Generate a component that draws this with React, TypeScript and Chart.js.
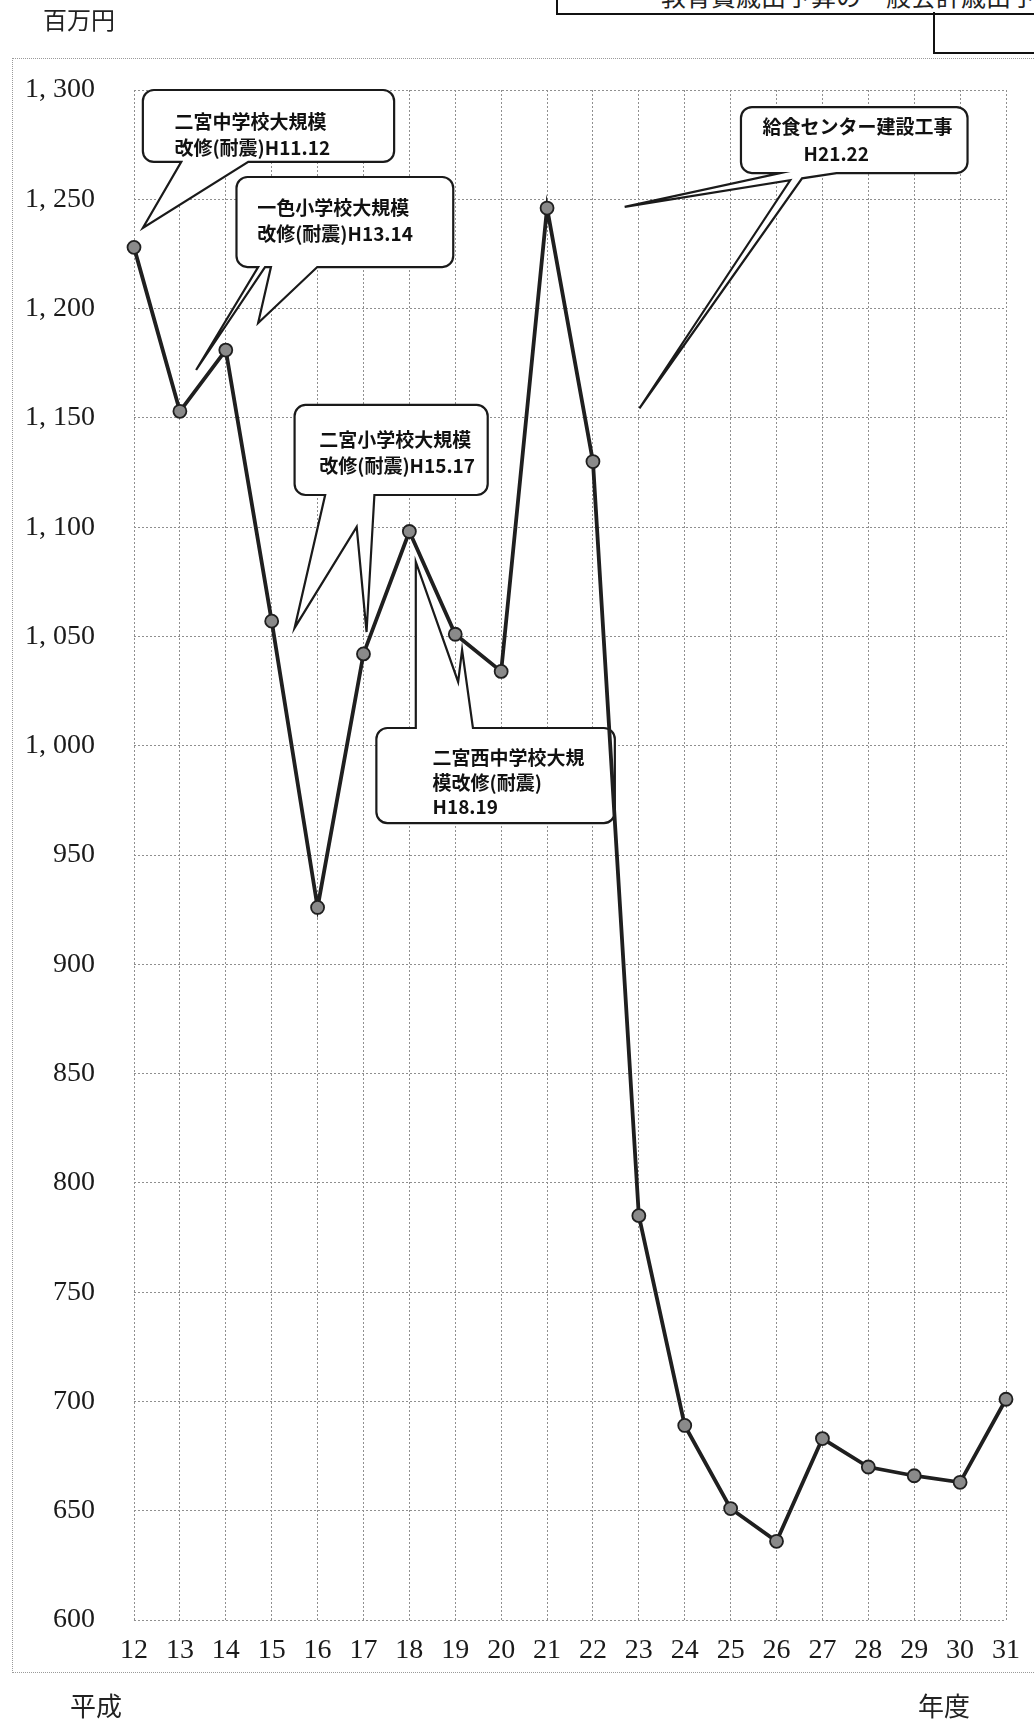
import React, { useEffect, useRef } from 'react';
import { Chart, registerables } from 'chart.js';

Chart.register(...registerables);

// ---- data ----
const years: string[] = ['12', '13', '14', '15', '16', '17', '18', '19', '20', '21', '22', '23', '24', '25', '26', '27', '28', '29', '30', '31'];
const amounts: number[] = [1228, 1153, 1181, 1057, 926, 1042, 1098, 1051, 1034, 1246, 1130, 785, 689, 651, 636, 683, 670, 666, 663, 701];
const yMin = 600;
const yMax = 1300;
const yStep = 50;

const unitLabel = '百万円';
const eraLabel = '平成';
const fiscalLabel = '年度';
const cutCaption = '教育費歳出予算の一般会計歳出予算に占める割合';

// callouts expressed in axis units: [category index, value]
type P = [number, number];
interface Callout {
  lines: string[];
  indents: number[];
  box: [number, number, number, number];
  text: P;
  lineGap: number;
  tails: { side: 'top' | 'bottom'; pts: P[] }[];
}
const callouts: Callout[] = [
  {
    lines: ['二宮中学校大規模', '改修(耐震)H11.12'],
    indents: [0, 0],
    box: [0.193, 1300, 5.668, 1267.1],
    text: [0.88, 1285.5],
    lineGap: 25.6,
    tails: [{ side: 'bottom', pts: [[2.49, 1267.1], [0.193, 1236.9], [1.03, 1267.1]] }],
  },
  {
    lines: ['一色小学校大規模', '改修(耐震)H13.14'],
    indents: [0, 0],
    box: [2.233, 1260.2, 6.956, 1219.0],
    text: [2.684, 1246.0],
    lineGap: 26,
    tails: [
      { side: 'bottom', pts: [[3.993, 1219.0], [2.705, 1193.4], [2.984, 1219.0]] },
      { side: 'bottom', pts: [[2.855, 1219.0], [1.353, 1171.9], [2.705, 1219.0]] },
    ],
  },
  {
    lines: ['給食センター建設工事', 'H21.22'],
    indents: [0, 41],
    box: [13.225, 1292.2, 18.162, 1262.0],
    text: [13.697, 1283.1],
    lineGap: 27,
    tails: [
      {
        side: 'bottom',
        pts: [[15.307, 1262.0], [14.556, 1259.6], [11.013, 1154.4], [14.298, 1258.7], [10.691, 1246.5], [14.083, 1262.0]],
      },
    ],
  },
  {
    lines: ['二宮小学校大規模', '改修(耐震)H15.17'],
    indents: [0, 0],
    box: [3.499, 1155.9, 7.707, 1114.7],
    text: [4.036, 1139.9],
    lineGap: 26,
    tails: [
      { side: 'bottom', pts: [[5.238, 1114.7], [5.067, 1052.0], [4.852, 1100.1], [3.499, 1053.9], [4.165, 1114.7]] },
    ],
  },
  {
    lines: ['二宮西中学校大規', '模改修(耐震)', 'H18.19'],
    indents: [0, 0, 0],
    box: [5.281, 1008.1, 10.477, 964.6],
    text: [6.505, 994.4],
    lineGap: 24.5,
    tails: [
      { side: 'top', pts: [[6.14, 1008.1], [6.14, 1084.1], [7.063, 1029.2], [7.149, 1043.8], [7.385, 1008.1]] },
    ],
  },
];

const fmtTick = (v: number) =>
  v >= 1000 ? `${Math.floor(v / 1000)}, ${String(v % 1000).padStart(3, '0')}` : `${v}`;

const calloutPlugin = {
  id: 'callouts',
  beforeDatasetsDraw(chart: any) {
    const ctx: CanvasRenderingContext2D = chart.ctx;
    const xs = chart.scales.x;
    const ys = chart.scales.y;
    const px = (p: P) => [xs.getPixelForValue(p[0]), ys.getPixelForValue(p[1])];
    callouts.forEach((c) => {
      const x1 = xs.getPixelForValue(c.box[0]);
      const y1 = ys.getPixelForValue(c.box[1]);
      const x2 = xs.getPixelForValue(c.box[2]);
      const y2 = ys.getPixelForValue(c.box[3]);
      const r = 11;
      ctx.save();
      ctx.beginPath();
      ctx.moveTo(x1 + r, y1);
      c.tails.filter((t) => t.side === 'top').forEach((t) => t.pts.forEach((p) => { const [a, b] = px(p); ctx.lineTo(a, b); }));
      ctx.lineTo(x2 - r, y1);
      ctx.arcTo(x2, y1, x2, y1 + r, r);
      ctx.lineTo(x2, y2 - r);
      ctx.arcTo(x2, y2, x2 - r, y2, r);
      c.tails.filter((t) => t.side === 'bottom').forEach((t) => t.pts.forEach((p) => { const [a, b] = px(p); ctx.lineTo(a, b); }));
      ctx.lineTo(x1 + r, y2);
      ctx.arcTo(x1, y2, x1, y2 - r, r);
      ctx.lineTo(x1, y1 + r);
      ctx.arcTo(x1, y1, x1 + r, y1, r);
      ctx.closePath();
      ctx.fillStyle = '#ffffff';
      ctx.fill();
      ctx.lineWidth = 2.2;
      ctx.lineJoin = 'miter';
      ctx.strokeStyle = '#1a1a1a';
      ctx.stroke();
      const [tx, ty] = px(c.text);
      ctx.fillStyle = '#111111';
      ctx.font = 'bold 19px "Noto Sans CJK JP", sans-serif';
      ctx.textAlign = 'left';
      ctx.textBaseline = 'middle';
      c.lines.forEach((ln, i) => ctx.fillText(ln, tx + c.indents[i], ty + i * c.lineGap));
      ctx.restore();
    });
  },
};

export default function App() {
  const ref = useRef<HTMLCanvasElement | null>(null);

  useEffect(() => {
    if (!ref.current) return;
    const gridColor = '#8f8f8f';
    const tickFont = { family: '"Liberation Serif", serif', size: 28 };
    const chart = new Chart(ref.current, {
      type: 'line',
      data: {
        labels: years,
        datasets: [
          {
            data: amounts,
            borderColor: '#1f1f1f',
            borderWidth: 3.8,
            pointRadius: 6.5,
            pointHoverRadius: 6.5,
            pointBackgroundColor: '#8a8a8a',
            pointBorderColor: '#1f1f1f',
            pointBorderWidth: 1.8,
            tension: 0,
            clip: false as any,
          },
        ],
      },
      options: {
        animation: false,
        responsive: false,
        devicePixelRatio: 1,
        layout: { padding: { left: 0, top: 90, right: 15, bottom: 42 } },
        plugins: { legend: { display: false }, tooltip: { enabled: false }, title: { display: false } },
        scales: {
          x: {
            type: 'category',
            offset: false,
            grid: { color: gridColor, lineWidth: 1, drawTicks: false },
            border: { display: false, dash: [2, 2] },
            ticks: { font: tickFont, color: '#1a1a1a', padding: 14, maxRotation: 0, autoSkip: false },
            afterFit: (s: any) => { s.height = 60; },
          },
          y: {
            min: yMin,
            max: yMax,
            grid: { color: gridColor, lineWidth: 1, drawTicks: false },
            border: { display: false, dash: [2, 2] },
            ticks: { stepSize: yStep, font: tickFont, color: '#1a1a1a', padding: 39, callback: (v: any) => fmtTick(Number(v)) },
            afterFit: (s: any) => { s.width = 134; },
          },
        },
      },
      plugins: [calloutPlugin],
    });
    return () => chart.destroy();
  }, []);

  const jp = '"Noto Sans CJK JP", sans-serif';
  return (
    <div style={{ position: 'absolute', left: 0, top: 0, width: 1034, height: 1722, overflow: 'hidden', background: '#ffffff' }}>
      <div style={{ position: 'absolute', left: 12, top: 58, width: 1100, height: 1613, border: '1px dotted #9a9a9a' }} />
      <div style={{ position: 'absolute', left: 556, top: -20, width: 600, height: 31, border: '2px solid #111' }} />
      <div style={{ position: 'absolute', left: 933, top: 12, width: 200, height: 40, borderLeft: '2.5px solid #111', borderBottom: '2.5px solid #111' }} />
      <div style={{ position: 'absolute', left: 661, top: -17, fontFamily: jp, fontSize: 25, lineHeight: '25px', whiteSpace: 'nowrap', color: '#222' }}>{cutCaption}</div>
      <canvas ref={ref} width={1034} height={1722} style={{ position: 'absolute', left: 0, top: 0, width: 1034, height: 1722 }} />
      <div style={{ position: 'absolute', left: 43, top: 6, fontFamily: jp, fontSize: 24, lineHeight: '26px', color: '#222' }}>{unitLabel}</div>
      <div style={{ position: 'absolute', left: 70, top: 1691, fontFamily: jp, fontSize: 26, lineHeight: '28px', color: '#222' }}>{eraLabel}</div>
      <div style={{ position: 'absolute', left: 918, top: 1691, fontFamily: jp, fontSize: 26, lineHeight: '28px', color: '#222' }}>{fiscalLabel}</div>
    </div>
  );
}
